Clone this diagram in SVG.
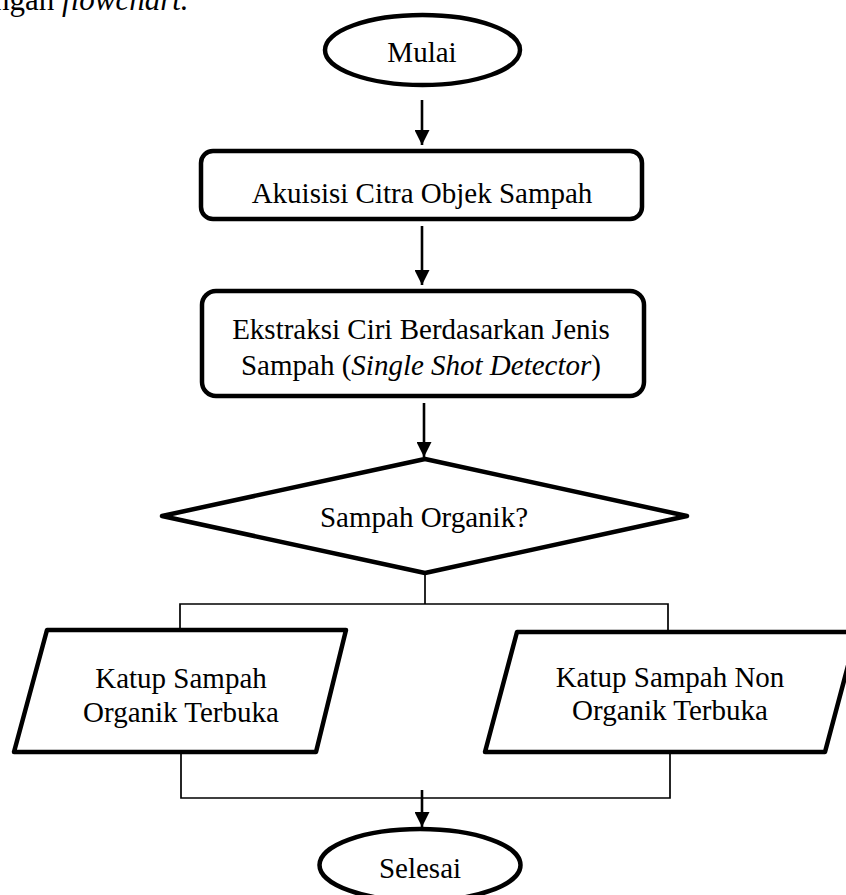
<svg xmlns="http://www.w3.org/2000/svg" width="846" height="895" viewBox="0 0 846 895">
<defs>
<style>
.t{font-family:"Liberation Serif","Times New Roman",serif;font-size:29px;fill:#000;text-anchor:middle}
.i{font-style:italic}
.shape{fill:#fff;stroke:#000;stroke-width:4.5;stroke-linejoin:round}
.conn{fill:none;stroke:#000;stroke-width:1.7}
.arr{fill:none;stroke:#000;stroke-width:2.6}
</style>
<marker id="ah" markerUnits="userSpaceOnUse" markerWidth="15" markerHeight="15" refX="15" refY="7.5" orient="auto">
<path d="M0,0 L15,7.5 L0,15 Z" fill="#000"/>
</marker>
</defs>
<rect width="846" height="895" fill="#fff"/>
<text x="-6" y="10" style="font-family:'Liberation Serif','Times New Roman',serif;font-size:31px;fill:#000">ngan <tspan font-style="italic">flowchart.</tspan></text>

<g id="connectors">
<line class="arr" x1="422" y1="100" x2="422" y2="145" marker-end="url(#ah)"/>
<line class="arr" x1="422" y1="226" x2="422" y2="285" marker-end="url(#ah)"/>
<line class="arr" x1="424" y1="403" x2="424" y2="457" marker-end="url(#ah)"/>
<polyline class="conn" points="425,573 425,604"/>
<polyline class="conn" points="180,630 180,604 668,604 668,632"/>
<polyline class="conn" points="181,752 181,798 670,798 670,752"/>
<line class="arr" x1="422" y1="790" x2="422" y2="827" marker-end="url(#ah)"/>
</g>

<g id="mulai">
<ellipse class="shape" cx="422.5" cy="50" rx="97.5" ry="35"/>
<text class="t" x="422" y="62">Mulai</text>
</g>

<g id="akuisisi">
<rect class="shape" x="201" y="151" width="441" height="68" rx="12"/>
<text class="t" x="422" y="203">Akuisisi Citra Objek Sampah</text>
</g>

<g id="ekstraksi">
<rect class="shape" x="202" y="291" width="442" height="105" rx="14"/>
<text class="t" x="421" y="339">Ekstraksi Ciri Berdasarkan Jenis</text>
<text class="t" x="421" y="375">Sampah (<tspan class="i">Single Shot Detector</tspan>)</text>
</g>

<g id="keputusan">
<polygon class="shape" points="425,459 687,516 425,573 162,516"/>
<text class="t" x="424" y="527">Sampah Organik?</text>
</g>

<g id="organik">
<polygon class="shape" points="47,630 346,630 316,752 14,752"/>
<text class="t" x="181" y="688">Katup Sampah</text>
<text class="t" x="181" y="722">Organik Terbuka</text>
</g>

<g id="nonorganik">
<polygon class="shape" points="517,632 857,632 825,752 485,752"/>
<text class="t" x="670" y="687">Katup Sampah Non</text>
<text class="t" x="670" y="720">Organik Terbuka</text>
</g>

<g id="selesai">
<ellipse class="shape" cx="420" cy="865" rx="100.5" ry="36"/>
<text class="t" x="420" y="878">Selesai</text>
</g>
</svg>
